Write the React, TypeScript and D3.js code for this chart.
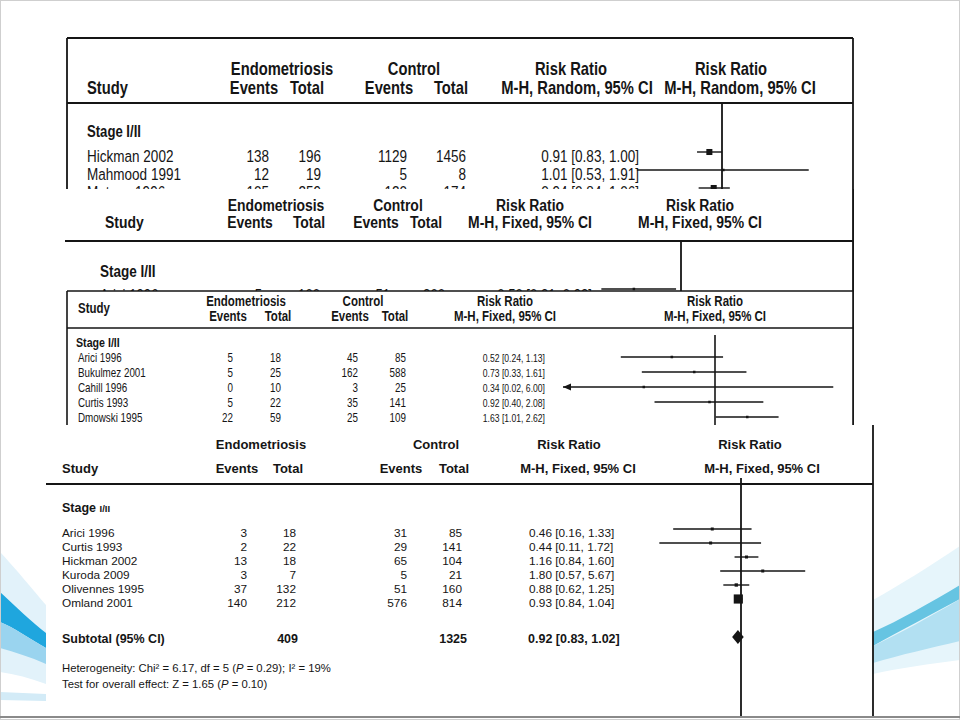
import React, { useRef, useEffect } from 'react';
import * as d3 from 'd3';

const WIDTH = 960;
const HEIGHT = 720;

// no narrow face is installed, so the condensed screenshots get a squeezed Liberation Sans
const NARROW = 'narrow';
const NARROW_SX = 0.82;
const SANS = "'Liberation Sans', Arial, Helvetica, sans-serif";
const INK = '#151515';

// panel 1 - M-H random, cut off by panel 2
const p1Studies = ['Hickman 2002', 'Mahmood 1991', 'Matsuo 1996'];
const p1EndoEvents = [138, 12, 105];
const p1EndoTotal = [196, 19, 259];
const p1CtrlEvents = [1129, 5, 120];
const p1CtrlTotal = [1456, 8, 174];
const p1RR = [0.91, 1.01, 0.94];
const p1Lo = [0.83, 0.53, 0.84];
const p1Hi = [1.0, 1.91, 1.06];
const p1Weight = [30, 1, 30];

// panel 2 - M-H fixed, only the first row peeks out
const p2Studies = ['Arici 1996'];
const p2EndoEvents = [5];
const p2EndoTotal = [100];
const p2CtrlEvents = [51];
const p2CtrlTotal = [200];
const p2RR = [0.5];
const p2Lo = [0.31];
const p2Hi = [0.93];
const p2Weight = [2];

// panel 3 - M-H fixed
const p3Studies = ['Arici 1996', 'Bukulmez 2001', 'Cahill 1996', 'Curtis 1993', 'Dmowski 1995'];
const p3EndoEvents = [5, 5, 0, 5, 22];
const p3EndoTotal = [18, 25, 10, 22, 59];
const p3CtrlEvents = [45, 162, 3, 35, 25];
const p3CtrlTotal = [85, 588, 25, 141, 109];
const p3RR = [0.52, 0.73, 0.34, 0.92, 1.63];
const p3Lo = [0.24, 0.33, 0.02, 0.4, 1.01];
const p3Hi = [1.13, 1.61, 6.0, 2.08, 2.62];
const p3Weight = [4, 5, 1, 4, 6];

// panel 4 - M-H fixed, full subgroup
const p4Studies = ['Arici 1996', 'Curtis 1993', 'Hickman 2002', 'Kuroda 2009', 'Olivennes 1995', 'Omland 2001'];
const p4EndoEvents = [3, 2, 13, 3, 37, 140];
const p4EndoTotal = [18, 22, 18, 7, 132, 212];
const p4CtrlEvents = [31, 29, 65, 5, 51, 576];
const p4CtrlTotal = [85, 141, 104, 21, 160, 814];
const p4RR = [0.46, 0.44, 1.16, 1.8, 0.88, 0.93];
const p4Lo = [0.16, 0.11, 0.84, 0.57, 0.62, 0.84];
const p4Hi = [1.33, 1.72, 1.6, 5.67, 1.25, 1.04];
const p4Weight = [3.3, 2.7, 6.7, 1.2, 10.0, 76.1];
const p4Subtotal = { endo: 409, ctrl: 1325, rr: 0.92, lo: 0.83, hi: 1.02 };

const fmt = d3.format('.2f');
const ciLabel = (rr: number, lo: number, hi: number) => `${fmt(rr)} [${fmt(lo)}, ${fmt(hi)}]`;

type Sel = d3.Selection<SVGGElement, unknown, null, undefined>;

const text = (g: Sel, x: number, y: number, s: string, font: string, size: number, opts: { bold?: boolean; anchor?: string } = {}) => {
    const t = g.append('text')
        .attr('dominant-baseline', 'central')
        .attr('text-anchor', opts.anchor || 'start')
        .style('font-family', font === NARROW ? SANS : font)
        .style('font-size', `${size}px`)
        .style('font-weight', opts.bold ? 'bold' : 'normal')
        .style('fill', INK)
        .text(s);
    if (font === NARROW) {
        t.attr('x', 0).attr('y', 0).attr('transform', `translate(${x},${y}) scale(${NARROW_SX},1)`);
    } else {
        t.attr('x', x).attr('y', y);
    }
    return t;
};

const hline = (g: Sel, x1: number, x2: number, y: number, w = 1.6) =>
    g.append('line').attr('x1', x1).attr('x2', x2).attr('y1', y).attr('y2', y).attr('stroke', INK).attr('stroke-width', w);

const vline = (g: Sel, x: number, y1: number, y2: number, w = 1.6) =>
    g.append('line').attr('x1', x).attr('x2', x).attr('y1', y1).attr('y2', y2).attr('stroke', INK).attr('stroke-width', w);

interface Cols { study: number; ee: number; et: number; ce: number; ct: number; ci: number; ciAnchor: string; ciSize?: number }

const drawRows = (g: Sel, ys: number[], cols: Cols, font: string, size: number,
    studies: string[], ee: number[], et: number[], ce: number[], ct: number[], rr: number[], lo: number[], hi: number[]) => {
    studies.forEach((s, i) => {
        const y = ys[i];
        text(g, cols.study, y, s, font, size);
        text(g, cols.ee, y, String(ee[i]), font, size, { anchor: 'end' });
        text(g, cols.et, y, String(et[i]), font, size, { anchor: 'end' });
        text(g, cols.ce, y, String(ce[i]), font, size, { anchor: 'end' });
        text(g, cols.ct, y, String(ct[i]), font, size, { anchor: 'end' });
        text(g, cols.ci, y, ciLabel(rr[i], lo[i], hi[i]), font, cols.ciSize || size, { anchor: cols.ciAnchor });
    });
};

const drawForest = (g: Sel, x: d3.ScaleLogarithmic<number, number>, ys: number[],
    rr: number[], lo: number[], hi: number[], weight: number[], sizeK: number, minSide: number) => {
    const [dMin, dMax] = x.domain();
    rr.forEach((r, i) => {
        const y = ys[i];
        const x0 = x(Math.max(lo[i], dMin));
        const x1 = x(Math.min(hi[i], dMax));
        hline(g, x0, x1, y, 1.4);
        if (lo[i] < dMin) {
            g.append('path')
                .attr('d', `M${x0},${y} L${x0 + 8},${y - 3.5} L${x0 + 8},${y + 3.5} Z`)
                .attr('fill', INK);
        }
        const side = Math.max(minSide, Math.sqrt(weight[i]) * sizeK);
        g.append('rect')
            .attr('x', x(r) - side / 2)
            .attr('y', y - side / 2)
            .attr('width', side)
            .attr('height', side)
            .attr('fill', INK);
    });
};

const App: React.FC = () => {
    const ref = useRef<SVGSVGElement>(null);

    useEffect(() => {
        if (!ref.current) return;
        const svg = d3.select(ref.current);
        svg.selectAll('*').remove();

        // slide background + blue swooshes
        const bg = svg.append('g') as unknown as Sel;
        bg.append('rect').attr('x', 0).attr('y', 0).attr('width', WIDTH).attr('height', HEIGHT).attr('fill', '#ffffff');
        bg.append('path').attr('d', 'M0,552 C15,568 35,592 46,605 L46,684 C30,678 15,674 0,672 Z').attr('fill', '#e2f2fa');
        bg.append('path').attr('d', 'M0,592 C15,606 32,622 46,633 L46,648 C30,639 15,628 0,622 Z').attr('fill', '#1fa6de');
        bg.append('path').attr('d', 'M0,622 C15,628 30,639 46,648 L46,664 C30,657 15,652 0,648 Z').attr('fill', '#9ad4ef');
        bg.append('path').attr('d', 'M0,692 L46,694 L46,701 L0,700 Z').attr('fill', '#d3ebf7');
        bg.append('path').attr('d', 'M873,600 C900,585 930,566 960,546 L960,660 C930,664 900,668 873,674 Z').attr('fill', '#e6f5fb');
        bg.append('path').attr('d', 'M873,632 C900,620 930,603 960,585 L960,599 C930,615 900,631 873,646 Z').attr('fill', '#66c4e2');
        bg.append('path').attr('d', 'M873,646 C900,633 930,617 960,599 L960,641 C930,648 900,655 873,663 Z').attr('fill', '#b2e0f2');
        bg.append('rect').attr('x', 0.5).attr('y', 0.5).attr('width', WIDTH - 1).attr('height', HEIGHT - 1)
            .attr('fill', 'none').attr('stroke', '#cfcfcf');
        hline(bg, 0, WIDTH, 717, 2).attr('stroke', '#8a8a8a');

        // ---------- panel 1 ----------
        const g1 = svg.append('g') as unknown as Sel;
        const x1 = d3.scaleLog().domain([0.1, 10]).range([722 - 308.6, 722 + 308.6]);
        hline(g1, 67, 853, 38, 1.8);
        vline(g1, 67, 38, 190, 1.8);
        vline(g1, 853, 38, 425, 1.8);
        const h1 = 18;
        text(g1, 282, 68, 'Endometriosis', NARROW, h1, { bold: true, anchor: 'middle' });
        text(g1, 414, 68, 'Control', NARROW, h1, { bold: true, anchor: 'middle' });
        text(g1, 571, 68, 'Risk Ratio', NARROW, h1, { bold: true, anchor: 'middle' });
        text(g1, 731, 68, 'Risk Ratio', NARROW, h1, { bold: true, anchor: 'middle' });
        text(g1, 87, 87, 'Study', NARROW, h1, { bold: true });
        text(g1, 254, 87, 'Events', NARROW, h1, { bold: true, anchor: 'middle' });
        text(g1, 307, 87, 'Total', NARROW, h1, { bold: true, anchor: 'middle' });
        text(g1, 389, 87, 'Events', NARROW, h1, { bold: true, anchor: 'middle' });
        text(g1, 451, 87, 'Total', NARROW, h1, { bold: true, anchor: 'middle' });
        text(g1, 577, 87, 'M-H, Random, 95% CI', NARROW, h1, { bold: true, anchor: 'middle' });
        text(g1, 740, 87, 'M-H, Random, 95% CI', NARROW, h1, { bold: true, anchor: 'middle' });
        hline(g1, 67, 853, 103, 1.8);
        vline(g1, x1(1), 103, 190, 1.8);
        text(g1, 87, 132, 'Stage I/II', NARROW, 16, { bold: true });
        const y1 = [156, 174, 192];
        drawRows(g1, y1, { study: 87, ee: 269, et: 321, ce: 407, ct: 466, ci: 639, ciAnchor: 'end' }, NARROW, 16.5,
            p1Studies, p1EndoEvents, p1EndoTotal, p1CtrlEvents, p1CtrlTotal, p1RR, p1Lo, p1Hi);
        drawForest(g1, x1, y1.map(y => y - 4), p1RR, p1Lo, p1Hi, p1Weight, 1.1, 2.5);

        // ---------- panel 2 ----------
        const g2 = svg.append('g') as unknown as Sel;
        const x2 = d3.scaleLog().domain([0.1, 10]).range([681 - 156.6, 681 + 156.6]);
        g2.append('rect').attr('x', 50).attr('y', 189).attr('width', 803).attr('height', 102).attr('fill', '#ffffff');
        vline(g2, 853, 189, 291, 1.8);
        const h2 = 17;
        text(g2, 276, 205, 'Endometriosis', NARROW, h2, { bold: true, anchor: 'middle' });
        text(g2, 398, 205, 'Control', NARROW, h2, { bold: true, anchor: 'middle' });
        text(g2, 530, 205, 'Risk Ratio', NARROW, h2, { bold: true, anchor: 'middle' });
        text(g2, 700, 205, 'Risk Ratio', NARROW, h2, { bold: true, anchor: 'middle' });
        text(g2, 105, 222, 'Study', NARROW, h2, { bold: true });
        text(g2, 250, 222, 'Events', NARROW, h2, { bold: true, anchor: 'middle' });
        text(g2, 309, 222, 'Total', NARROW, h2, { bold: true, anchor: 'middle' });
        text(g2, 376, 222, 'Events', NARROW, h2, { bold: true, anchor: 'middle' });
        text(g2, 426, 222, 'Total', NARROW, h2, { bold: true, anchor: 'middle' });
        text(g2, 530, 222, 'M-H, Fixed, 95% CI', NARROW, h2, { bold: true, anchor: 'middle' });
        text(g2, 700, 222, 'M-H, Fixed, 95% CI', NARROW, h2, { bold: true, anchor: 'middle' });
        hline(g2, 65, 853, 241, 1.8);
        vline(g2, x2(1), 241, 291, 1.8);
        text(g2, 100, 271, 'Stage I/II', NARROW, 16.5, { bold: true });
        const y2 = [296];
        drawRows(g2, y2, { study: 100, ee: 262, et: 320, ce: 390, ct: 445, ci: 592, ciAnchor: 'end' }, NARROW, 16,
            p2Studies, p2EndoEvents, p2EndoTotal, p2CtrlEvents, p2CtrlTotal, p2RR, p2Lo, p2Hi);
        drawForest(g2, x2, [289], p2RR, p2Lo, p2Hi, p2Weight, 1, 2.5);

        // ---------- panel 3 ----------
        const g3 = svg.append('g') as unknown as Sel;
        const x3 = d3.scaleLog().domain([0.1, 10]).range([715 - 152, 715 + 152]);
        g3.append('rect').attr('x', 67).attr('y', 291).attr('width', 786).attr('height', 140).attr('fill', '#ffffff');
        hline(g3, 67, 853, 291, 1.6);
        vline(g3, 67, 291, 425, 1.6);
        vline(g3, 853, 291, 425, 1.6);
        const h3 = 14;
        text(g3, 246, 301, 'Endometriosis', NARROW, h3, { bold: true, anchor: 'middle' });
        text(g3, 363, 301, 'Control', NARROW, h3, { bold: true, anchor: 'middle' });
        text(g3, 505, 301, 'Risk Ratio', NARROW, h3, { bold: true, anchor: 'middle' });
        text(g3, 715, 301, 'Risk Ratio', NARROW, h3, { bold: true, anchor: 'middle' });
        text(g3, 78, 308, 'Study', NARROW, h3, { bold: true });
        text(g3, 228, 316, 'Events', NARROW, h3, { bold: true, anchor: 'middle' });
        text(g3, 278, 316, 'Total', NARROW, h3, { bold: true, anchor: 'middle' });
        text(g3, 350, 316, 'Events', NARROW, h3, { bold: true, anchor: 'middle' });
        text(g3, 395, 316, 'Total', NARROW, h3, { bold: true, anchor: 'middle' });
        text(g3, 505, 316, 'M-H, Fixed, 95% CI', NARROW, h3, { bold: true, anchor: 'middle' });
        text(g3, 715, 316, 'M-H, Fixed, 95% CI', NARROW, h3, { bold: true, anchor: 'middle' });
        hline(g3, 67, 853, 328, 1.6);
        vline(g3, x3(1), 335, 425, 1.6);
        text(g3, 76, 343, 'Stage I/II', NARROW, 13, { bold: true });
        const y3 = [358, 373, 388, 403, 418];
        drawRows(g3, y3, { study: 78, ee: 233, et: 281, ce: 358, ct: 406, ci: 545, ciAnchor: 'end', ciSize: 10.5 }, NARROW, 12,
            p3Studies, p3EndoEvents, p3EndoTotal, p3CtrlEvents, p3CtrlTotal, p3RR, p3Lo, p3Hi);
        drawForest(g3, x3, y3.map(y => y - 1), p3RR, p3Lo, p3Hi, p3Weight, 0.6, 2.5);

        // ---------- panel 4 ----------
        const g4 = svg.append('g') as unknown as Sel;
        const x4 = d3.scaleLog().domain([0.01, 100]).range([741 - 170.4, 741 + 170.4]);
        g4.append('rect').attr('x', 46).attr('y', 425).attr('width', 827).attr('height', 291).attr('fill', '#ffffff');
        vline(g4, 873, 425, 716, 1.8);
        text(g4, 261, 444, 'Endometriosis', SANS, 13, { bold: true, anchor: 'middle' });
        text(g4, 436, 444, 'Control', SANS, 13, { bold: true, anchor: 'middle' });
        text(g4, 569, 444, 'Risk Ratio', SANS, 13, { bold: true, anchor: 'middle' });
        text(g4, 750, 444, 'Risk Ratio', SANS, 13, { bold: true, anchor: 'middle' });
        text(g4, 62, 468, 'Study', SANS, 13, { bold: true });
        text(g4, 237, 468, 'Events', SANS, 13, { bold: true, anchor: 'middle' });
        text(g4, 288, 468, 'Total', SANS, 13, { bold: true, anchor: 'middle' });
        text(g4, 401, 468, 'Events', SANS, 13, { bold: true, anchor: 'middle' });
        text(g4, 454, 468, 'Total', SANS, 13, { bold: true, anchor: 'middle' });
        text(g4, 578, 468, 'M-H, Fixed, 95% CI', SANS, 13, { bold: true, anchor: 'middle' });
        text(g4, 762, 468, 'M-H, Fixed, 95% CI', SANS, 13, { bold: true, anchor: 'middle' });
        hline(g4, 46, 873, 484, 1.8);
        vline(g4, x4(1), 478, 716, 1.8);
        const stage = text(g4, 62, 508, 'Stage ', SANS, 12.5, { bold: true });
        stage.append('tspan').style('font-size', '9.5px').text('I/II');
        const y4 = [533, 547, 561, 575, 589, 603];
        drawRows(g4, y4, { study: 62, ee: 247, et: 296, ce: 407, ct: 462, ci: 529, ciAnchor: 'start' }, SANS, 11.8,
            p4Studies, p4EndoEvents, p4EndoTotal, p4CtrlEvents, p4CtrlTotal, p4RR, p4Lo, p4Hi);
        drawForest(g4, x4, y4.map(y => y - 4), p4RR, p4Lo, p4Hi, p4Weight, 1.05, 3);

        // subtotal diamond
        const ys = 639;
        text(g4, 62, ys, 'Subtotal (95% CI)', SANS, 12.5, { bold: true });
        text(g4, 298, ys, String(p4Subtotal.endo), SANS, 12.5, { bold: true, anchor: 'end' });
        text(g4, 467, ys, String(p4Subtotal.ctrl), SANS, 12.5, { bold: true, anchor: 'end' });
        text(g4, 528, ys, ciLabel(p4Subtotal.rr, p4Subtotal.lo, p4Subtotal.hi), SANS, 12.5, { bold: true });
        const dy = ys - 2;
        g4.append('path')
            .attr('d', `M${x4(p4Subtotal.lo) - 2},${dy} L${x4(p4Subtotal.rr)},${dy - 7} L${x4(p4Subtotal.hi) + 2},${dy} L${x4(p4Subtotal.rr)},${dy + 7} Z`)
            .attr('fill', INK);

        const het = text(g4, 62, 668, 'Heterogeneity: Chi² = 6.17, df = 5 (', SANS, 11.3);
        het.append('tspan').style('font-style', 'italic').text('P');
        het.append('tspan').text(' = 0.29); I² = 19%');
        const test = text(g4, 62, 684, 'Test for overall effect: Z = 1.65 (', SANS, 11.3);
        test.append('tspan').style('font-style', 'italic').text('P');
        test.append('tspan').text(' = 0.10)');
    }, []);

    return (
        <svg ref={ref} width={WIDTH} height={HEIGHT}
            style={{ position: 'absolute', left: 0, top: 0, display: 'block' }} />
    );
};

export default App;
